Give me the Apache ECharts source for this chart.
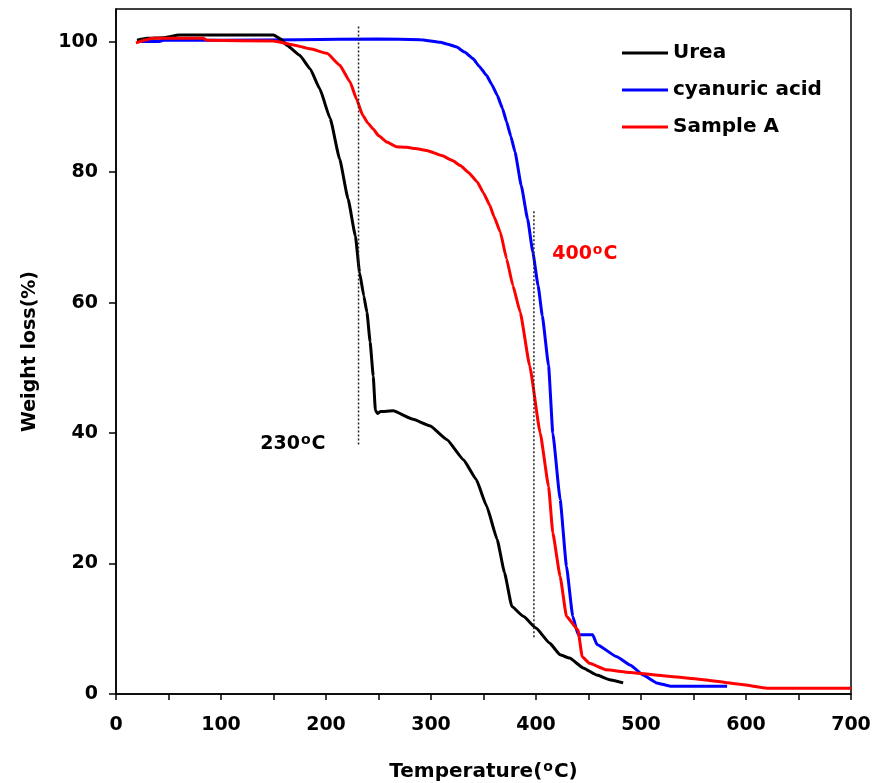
<!DOCTYPE html>
<html>
<head>
<meta charset="utf-8">
<script src="https://cdn.jsdelivr.net/npm/echarts@6/dist/echarts.min.js"></script>
<style>html,body{margin:0;padding:0;background:#fff;}#c{width:874px;height:783px;}</style>
</head>
<body>
<div id="c"></div>
<script>
// ---- data ----
var seriesNames = ['Urea', 'cyanuric acid', 'Sample A'];

var ureaT = [20, 30, 45, 60, 100, 150, 157, 163, 175, 185, 194, 204, 213, 221, 228, 232, 236, 239, 242, 245, 247, 249, 252, 264, 283, 299, 315, 331, 343, 353, 363, 370, 377, 388, 400, 413, 423, 432, 445, 458, 470, 483];
var ureaW = [100.2, 100.5, 100.6, 101.0, 101.0, 101.0, 100.4, 99.4, 97.9, 95.8, 92.8, 88.2, 82.0, 75.9, 70.2, 64.6, 61.0, 58.5, 54.0, 48.7, 43.5, 43.0, 43.3, 43.4, 42.1, 41.1, 39.0, 35.9, 32.9, 28.8, 23.7, 18.6, 13.4, 11.9, 10.1, 7.8, 6.0, 5.5, 4.0, 2.9, 2.2, 1.7];

var cyaT = [20, 40, 45, 100, 175, 250, 290, 309, 316, 324, 332, 340, 346, 353, 358, 363, 368, 372, 376, 380, 386, 392, 397, 402, 406, 412, 416, 423, 429, 435, 440, 454, 458, 477, 490, 502, 515, 528, 582];
var cyaW = [100.0, 100.0, 100.2, 100.2, 100.3, 100.4, 100.3, 99.9, 99.6, 99.2, 98.4, 97.4, 96.2, 94.8, 93.4, 91.8, 89.8, 87.7, 85.5, 83.1, 77.9, 72.8, 67.7, 62.6, 58.0, 50.3, 40.0, 29.8, 19.6, 11.9, 9.1, 9.1, 7.6, 5.7, 4.4, 2.9, 1.7, 1.2, 1.2];

var sampT = [19, 35, 83, 87, 150, 169, 185, 201, 213, 223, 229, 235, 240, 245, 250, 258, 267, 277, 285, 296, 311, 320, 328, 336, 344, 350, 356, 360, 366, 372, 378, 385, 394, 404, 412, 416, 423, 429, 440, 444, 451, 467, 490, 521, 553, 594, 620, 700];
var sampW = [99.8, 100.5, 100.5, 100.2, 100.1, 99.5, 98.9, 98.2, 96.4, 93.8, 91.2, 88.7, 87.5, 86.6, 85.6, 84.6, 83.9, 83.8, 83.6, 83.3, 82.5, 81.8, 81.0, 79.9, 78.5, 76.8, 74.9, 73.2, 70.8, 66.7, 62.6, 58.5, 50.3, 40.0, 31.8, 24.7, 18.0, 11.9, 9.8, 5.7, 4.7, 3.7, 3.3, 2.8, 2.3, 1.5, 0.9, 0.9];

// reference (dotted) lines: [x, yStart, yEnd]
var refLine1 = [231, 102.3, 38.1];
var refLine2 = [398, 74.0, 8.6];

// annotation labels: [x, y]
var note230 = [168.5, 38.3];
var note400 = [446.5, 67.4];

var xTicksMajor = [0, 100, 200, 300, 400, 500, 600, 700];
var yTicks = [0, 20, 40, 60, 80, 100];

function zip(a, b) { var r = []; for (var i = 0; i < a.length; i++) r.push([a[i], b[i]]); return r; }

var FONT = 'DejaVu Sans';
var chart = echarts.init(document.getElementById('c'));
function supRich(color) {
  return { s: { fontFamily: FONT, fontWeight: 'bold', fontSize: 14, lineHeight: 14, verticalAlign: 'top', color: color, padding: [0, 1, 0, 1] } };
}
function noteLabel(txt, color) {
  return { show: true, position: 'inside', formatter: txt, fontFamily: FONT, fontWeight: 'bold', fontSize: 19, lineHeight: 22,
    color: color, opacity: 1, textBorderWidth: 0, textBorderColor: 'transparent', rich: supRich(color) };
}

chart.setOption({
  backgroundColor: '#fff',
  animation: false,
  grid: { left: 116, right: 23, top: 9, bottom: 89, containLabel: false, outerBoundsMode: 'none', show: true, borderColor: '#000', borderWidth: 1.5, backgroundColor: 'transparent' },
  legend: {
    data: seriesNames,
    orient: 'vertical',
    left: 617, top: 38,
    icon: 'rect', itemWidth: 46, itemHeight: 3, itemGap: 17, itemTextGap: 6,
    textStyle: { fontFamily: FONT, fontWeight: 'bold', fontSize: 20, color: '#000' }
  },
  xAxis: {
    type: 'value', min: 0, max: 700, interval: 100,
    name: 'Temperature({s|o}C)', nameLocation: 'middle', nameGap: 66,
    nameTextStyle: { fontFamily: FONT, fontWeight: 'bold', fontSize: 20, lineHeight: 23, color: '#000', rich: { s: { fontFamily: FONT, fontWeight: 'bold', fontSize: 14, lineHeight: 14, verticalAlign: 'top', color: '#000', padding: [0, 1, 0, 1] } } },
    axisLine: { show: true, lineStyle: { color: '#000', width: 1.5 } },
    axisTick: { show: true, inside: false, length: 6, lineStyle: { color: '#000', width: 1.5 } },
    minorTick: { show: true, splitNumber: 2, length: 6, lineStyle: { color: '#000', width: 1.5 } },
    axisLabel: { margin: 22, fontFamily: FONT, fontWeight: 'bold', fontSize: 19, color: '#000', customValues: xTicksMajor },
    splitLine: { show: false }
  },
  yAxis: {
    type: 'value', min: 0, max: 105,
    name: 'Weight loss(%)', nameLocation: 'middle', nameGap: 76, nameRotate: 90,
    nameTextStyle: { fontFamily: FONT, fontWeight: 'bold', fontSize: 19, color: '#000' },
    axisLine: { show: true, lineStyle: { color: '#000', width: 1.5 } },
    axisTick: { show: true, length: 7, customValues: yTicks, lineStyle: { color: '#000', width: 1.5 } },
    axisLabel: { margin: 18, fontFamily: FONT, fontWeight: 'bold', fontSize: 19, color: '#000', customValues: yTicks },
    splitLine: { show: false }
  },
  series: [
    { name: 'Urea', type: 'line', data: zip(ureaT, ureaW), symbol: 'none', smooth: 0.12, smoothMonotone: 'x', color: '#000000', lineStyle: { width: 3, color: '#000000' }, z: 3 },
    { name: 'cyanuric acid', type: 'line', data: zip(cyaT, cyaW), symbol: 'none', smooth: 0.12, smoothMonotone: 'x', color: '#0000ff', lineStyle: { width: 3, color: '#0000ff' }, z: 2 },
    { name: 'Sample A', type: 'line', data: zip(sampT, sampW), symbol: 'none', smooth: 0.12, smoothMonotone: 'x', color: '#ff0000', lineStyle: { width: 3, color: '#ff0000' }, z: 4 },
    { name: 'ref1', type: 'line', data: [[refLine1[0], refLine1[1]], [refLine1[0], refLine1[2]]], symbol: 'none', lineStyle: { width: 1.5, type: [2, 2], color: '#222' }, z: 5 },
    { name: 'ref2', type: 'line', data: [[refLine2[0], refLine2[1]], [refLine2[0], refLine2[2]]], symbol: 'none', lineStyle: { width: 1.5, type: [2, 2], color: '#222' }, z: 5 },
    { name: 'n230', type: 'scatter', data: [note230], symbolSize: 0, color: '#000000', itemStyle: { opacity: 1 }, z: 6, label: noteLabel('230{s|o}C', '#000000') },
    { name: 'n400', type: 'scatter', data: [note400], symbolSize: 0, color: '#ff0000', itemStyle: { opacity: 1 }, z: 6, label: noteLabel('400{s|o}C', '#ff0000') }
  ]
});
</script>
</body>
</html>
